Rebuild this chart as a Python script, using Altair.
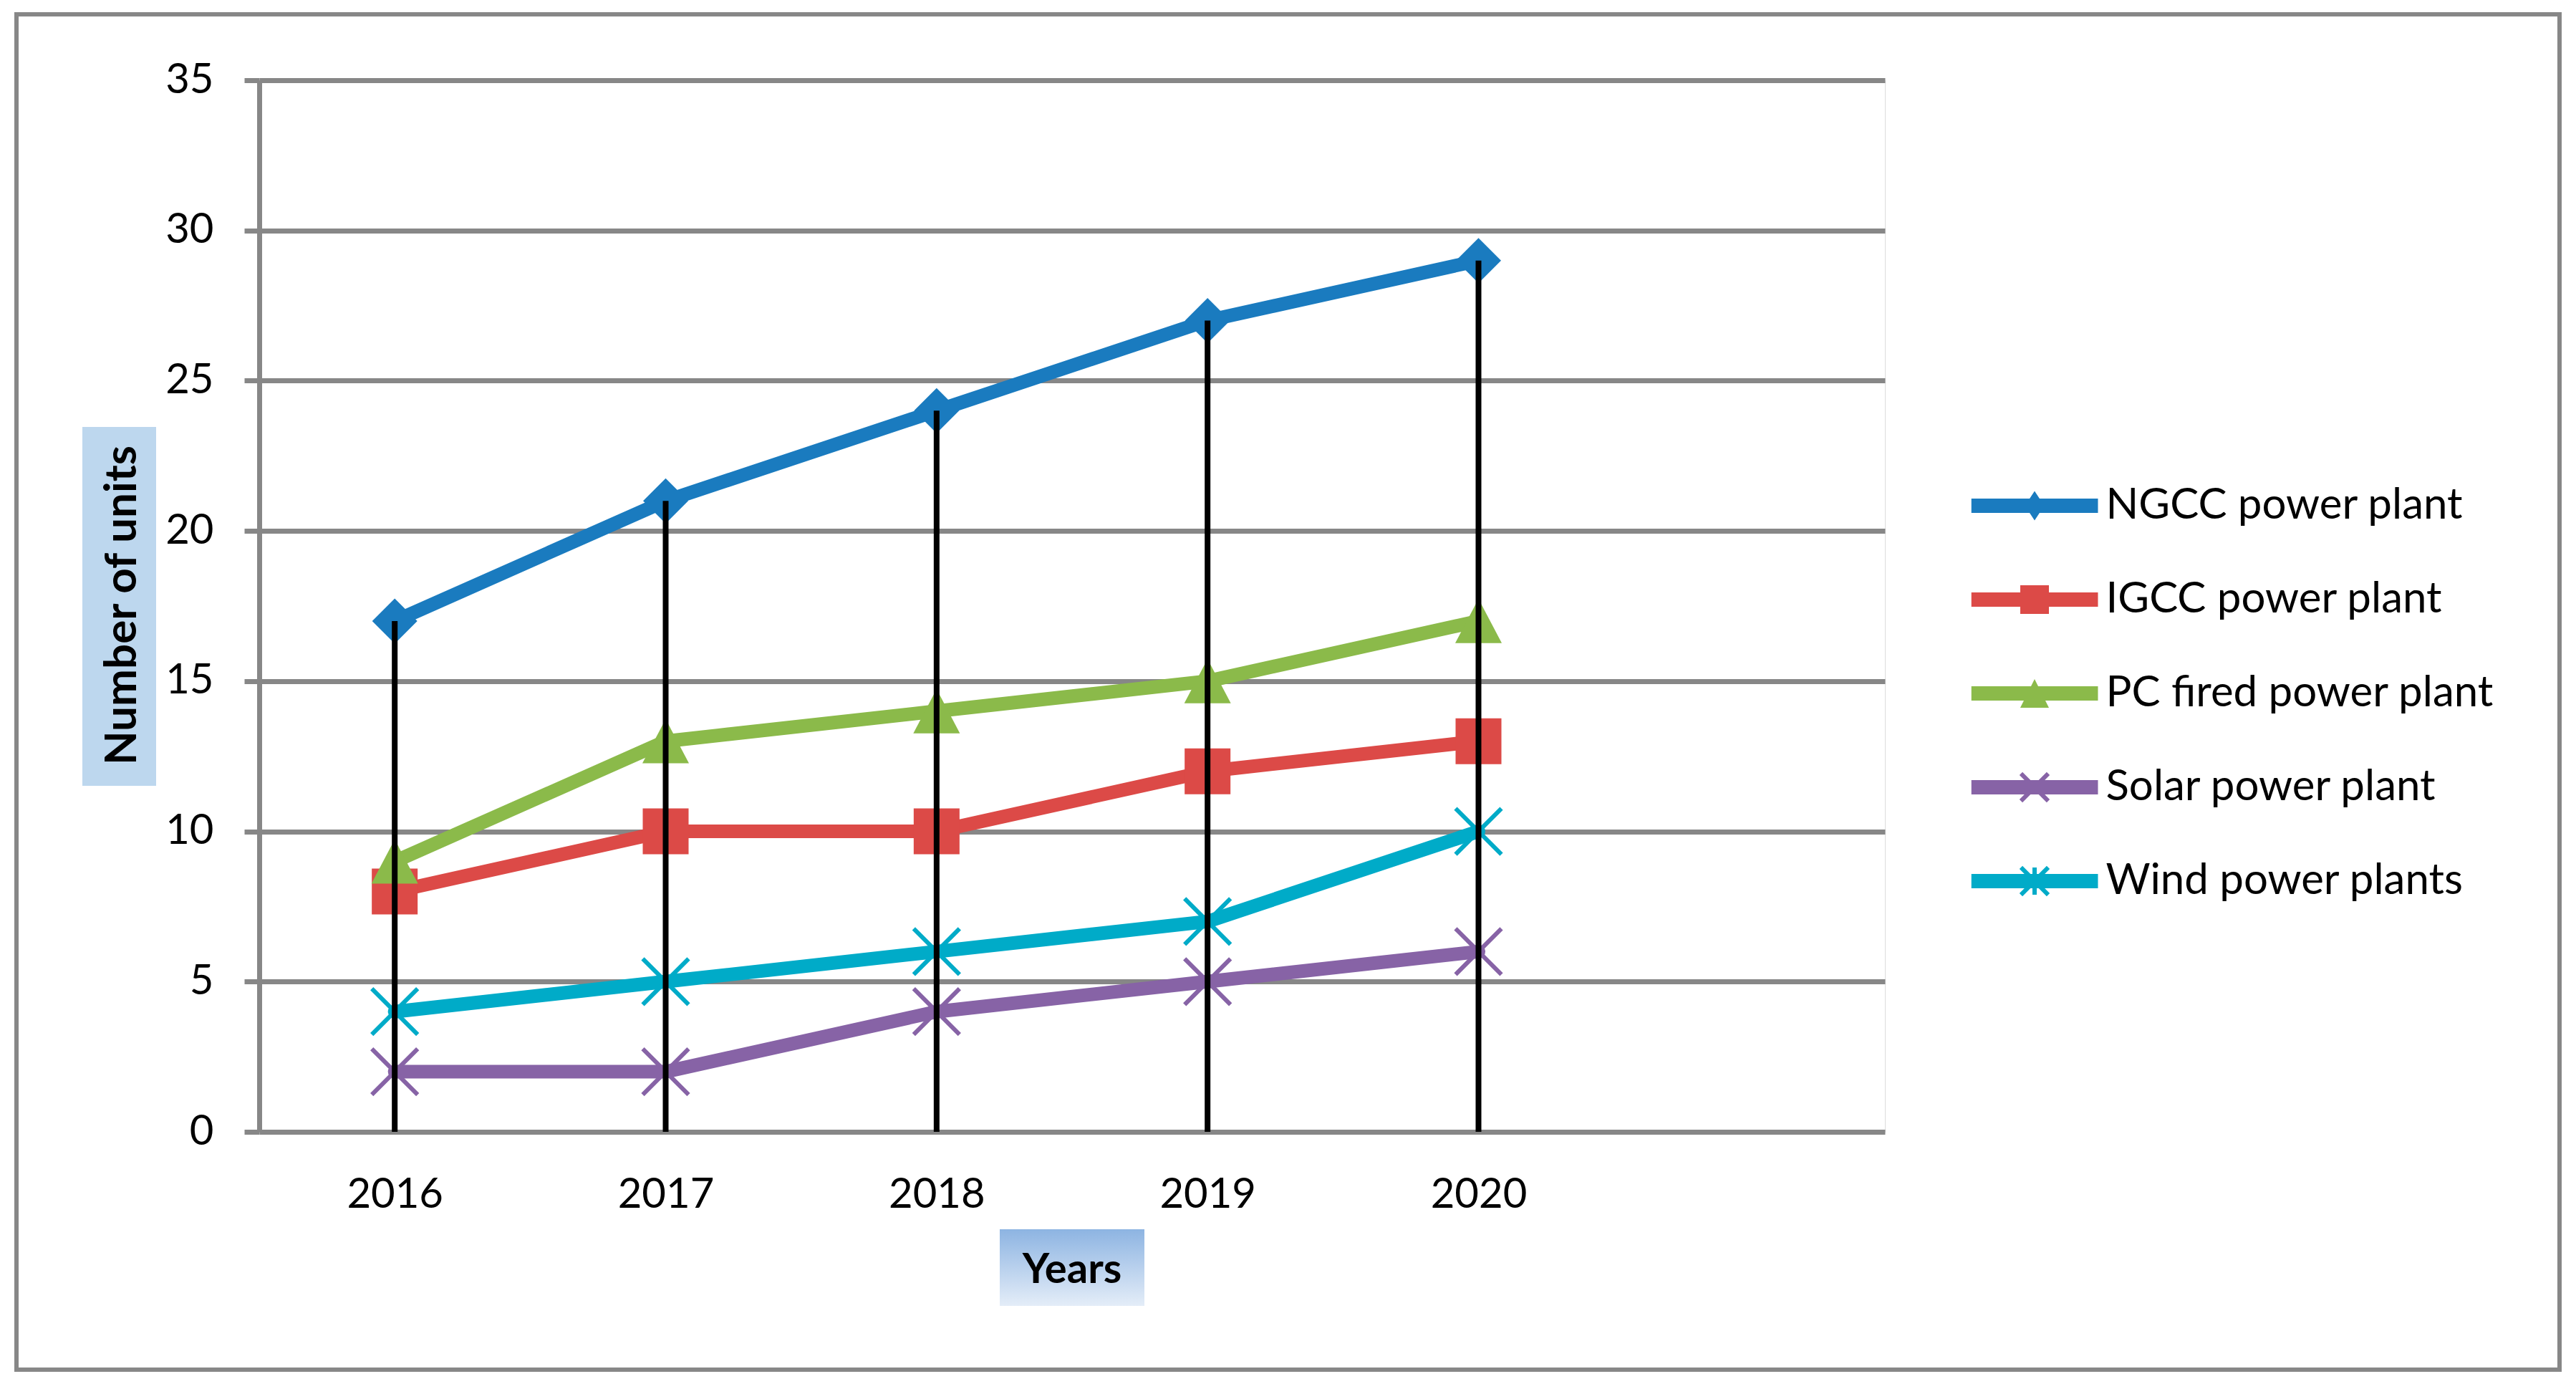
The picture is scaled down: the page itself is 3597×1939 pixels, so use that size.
import altair as alt
import pandas as pd

# ---------------- data ----------------
years = ["2016", "2017", "2018", "2019", "2020"]
series = ["NGCC power plant", "IGCC power plant", "PC fired power plant",
          "Solar power plant", "Wind power plants"]
ngcc = [17, 21, 24, 27, 29]
igcc = [8, 10, 10, 12, 13]
pc = [9, 13, 14, 15, 17]
solar = [2, 2, 4, 5, 6]
wind = [4, 5, 6, 7, 10]
values = [ngcc, igcc, pc, solar, wind]
y_ticks = [0, 5, 10, 15, 20, 25, 30, 35]

colors = ["#1A7BBF", "#DC4A47", "#8BBA4A", "#8763A6", "#00ABC8"]

rows = []
for s, vals in zip(series, values):
    for yr, v in zip(years, vals):
        rows.append({"series": s, "year": yr, "value": v})
df = pd.DataFrame(rows)

# ---------------- style ----------------
W, H = 2270, 1468
GRID = "#878787"
FONT = "Lato"
FS = 58


def poly(pts):
    area = 0.0
    for i in range(len(pts)):
        x1, y1 = pts[i]
        x2, y2 = pts[(i + 1) % len(pts)]
        area += x1 * y2 - x2 * y1
    if area < 0:
        pts = pts[::-1]
    s = "M" + "L".join(f"{x:.3f},{y:.3f}" for x, y in pts) + "Z"
    return s


def bar(x1, y1, x2, y2, w):
    dx, dy = x2 - x1, y2 - y1
    ln = (dx * dx + dy * dy) ** 0.5
    px, py = -dy / ln * w, dx / ln * w
    return poly([(x1 + px, y1 + py), (x2 + px, y2 + py),
                 (x2 - px, y2 - py), (x1 - px, y1 - py)])


LT = 0.113  # half thickness of legend line (unit = 88.5px)
line_path = poly([(-1, -LT), (1, -LT), (1, LT), (-1, LT)])
lg_diamond = poly([(0, -0.232), (0.153, 0), (0, 0.232), (-0.153, 0)])
lg_square = poly([(-0.226, -0.226), (0.226, -0.226), (0.226, 0.226), (-0.226, 0.226)])
lg_tri = poly([(0, -0.226), (0.226, 0.226), (-0.226, 0.226)])
a, w = 0.215, 0.034
lg_x = bar(-a, -a, a, a, w) + bar(-a, a, a, -a, w)
lg_star = lg_x + bar(0, -a, 0, a, w)
legend_paths = [line_path + lg_diamond, line_path + lg_square, line_path + lg_tri,
                line_path + lg_x, line_path + lg_star]

markers = [
    dict(shape="M0,-1L1,0L0,1L-1,0Z", size=3969, filled=True),
    dict(shape="square", size=4096, filled=True),
    dict(shape="M0,-0.95L1,0.95L-1,0.95Z", size=4225, filled=True),
    dict(shape="M-1,-1L1,1M-1,1L1,-1", size=4096, filled=False, strokeWidth=6),
    dict(shape="M-1,-1L1,1M-1,1L1,-1M0,-1L0,1", size=4096, filled=False, strokeWidth=6),
]

x_enc = alt.X(
    "year:N",
    scale=alt.Scale(type="point", domain=years + [" "], padding=0.5),
    axis=alt.Axis(title=None, domain=False, ticks=False, grid=False, labelAngle=0,
                  labelFont=FONT, labelFontSize=FS, labelColor="black", labelPadding=59),
)
y_enc = alt.Y(
    "value:Q",
    scale=alt.Scale(domain=[0, 35], nice=False, zero=True),
    axis=alt.Axis(title=None, values=y_ticks, grid=True, gridColor=GRID, gridWidth=7,
                  domainColor=GRID, domainWidth=7, tickColor=GRID, tickWidth=7,
                  tickSize=21, labelFont=FONT, labelFontSize=FS, labelColor="black",
                  labelPadding=43),
)

base = alt.Chart(df)
layers = []
for s, c, m in zip(series, colors, markers):
    sub = base.transform_filter(alt.datum.series == s)
    layers.append(sub.mark_line(color=c, strokeWidth=19, strokeJoin="round",
                                strokeCap="round").encode(x=x_enc, y=y_enc))
    pkw = dict(shape=m["shape"], size=m["size"], filled=m["filled"], opacity=1)
    if m["filled"]:
        pkw["fill"] = c
    else:
        pkw["stroke"] = c
        pkw["strokeWidth"] = m["strokeWidth"]
    layers.append(sub.mark_point(**pkw).encode(x=x_enc, y=y_enc))

# drop lines from the highest series to the axis
layers.append(
    base.transform_filter(alt.datum.series == series[0])
    .mark_rule(color="black", strokeWidth=8)
    .encode(x=x_enc, y=y_enc, y2=alt.datum(0))
)

# legend (custom line+marker symbols)
leg = alt.Legend(title=None, orient="none", legendX=2390.5, legendY=554, padding=0,
                 symbolSize=31329, symbolStrokeWidth=0, symbolOpacity=1,
                 labelFont=FONT, labelFontSize=60, labelColor="black",
                 labelOffset=11, clipHeight=80, rowPadding=51, symbolOffset=0,
                 labelLimit=1000)
layers.append(
    base.transform_filter("false")
    .mark_point(filled=True, opacity=1, size=31329)
    .encode(
        color=alt.Color("series:N", scale=alt.Scale(domain=series, range=colors), legend=leg),
        shape=alt.Shape("series:N", scale=alt.Scale(domain=series, range=legend_paths), legend=leg),
    )
)

one = alt.Chart(pd.DataFrame({"k": [0]}))

# axis title boxes and texts
layers.append(one.mark_rect(fill="#BDD7EE").encode(
    x=alt.value(-247), x2=alt.value(-144), y=alt.value(484), y2=alt.value(985)))
layers.append(one.mark_text(text="Number of units", font=FONT, fontSize=62,
                            fontWeight="bold", angle=270, align="center",
                            baseline="alphabetic", color="black").encode(
    x=alt.value(-172), y=alt.value(733)))

grad = alt.LinearGradient(
    gradient="linear",
    stops=[alt.GradientStop(color="#8DB4E2", offset=0),
           alt.GradientStop(color="#E4EDF8", offset=1)],
    x1=0, x2=0, y1=0, y2=1,
)
layers.append(one.mark_rect(fill=grad).encode(
    x=alt.value(1034), x2=alt.value(1236), y=alt.value(1604), y2=alt.value(1711)))
layers.append(one.mark_text(text="Years", font=FONT, fontSize=58, fontWeight="bold",
                            align="center", baseline="alphabetic", color="black").encode(
    x=alt.value(1135), y=alt.value(1679)))

# outer chart border
layers.append(one.mark_rect(filled=False, stroke=GRID, strokeWidth=6).encode(
    x=alt.value(-339), x2=alt.value(3212), y=alt.value(-92), y2=alt.value(1800)))

chart = (
    alt.layer(*layers)
    .properties(width=W, height=H,
                padding={"left": 354, "top": 104, "right": 950, "bottom": 340},
                autosize=alt.AutoSizeParams(type="none"))
    .configure_view(stroke=None, strokeWidth=0)
    .configure(background="white")
)

chart.save("out.html", embed_options={"renderer": "svg", "actions": False})
